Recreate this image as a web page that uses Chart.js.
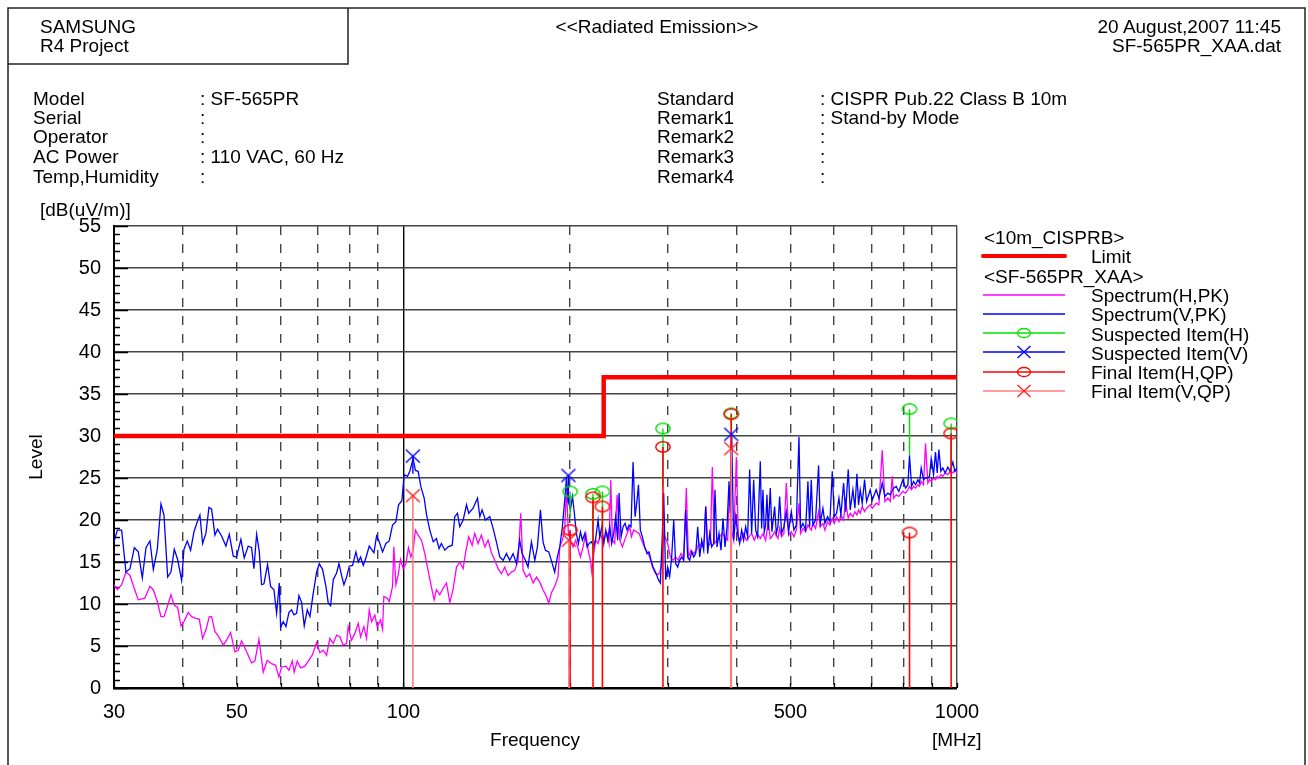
<!DOCTYPE html>
<html lang="en">
  <head>
    <meta charset="UTF-8" />
    <title>Radiated Emission</title>
    <script src="https://cdn.jsdelivr.net/npm/chart.js@4"></script>
    <style>
      body {
        margin: 0;
        width: 1308px;
        height: 765px;
        position: relative;
        overflow: hidden;
        background: #fff;
        color: #000;
        font-family: "Liberation Sans", Arial, sans-serif;
        font-size: 19px;
      }
      #chart,
      #frame {
        position: absolute;
        left: 0;
        top: 0;
      }
      .t {
        position: absolute;
        line-height: 20px;
        white-space: nowrap;
      }
    </style>
  </head>
  <body>
    <canvas id="chart" width="1308" height="765"></canvas>
    <svg id="frame" width="1308" height="765">
      <path d="M8 765 V8 H1305 V765 M348 8 V64 H8" fill="none" stroke="#222" stroke-width="1.5" />
      <line x1="983" y1="256" x2="1065" y2="256" stroke="#ff0000" stroke-width="4" stroke-linecap="round" />
      <line x1="983" y1="295" x2="1065" y2="295" stroke="#ff00ff" stroke-width="1.5" />
      <line x1="983" y1="314" x2="1065" y2="314" stroke="#0000ff" stroke-width="1.5" />
      <line x1="983" y1="333" x2="1065" y2="333" stroke="#00e000" stroke-width="1.5" />
      <ellipse cx="1024" cy="333" rx="6.5" ry="4.5" fill="none" stroke="#00e000" stroke-width="1.3" />
      <line x1="983" y1="352" x2="1065" y2="352" stroke="#0000ff" stroke-width="1.5" />
      <path d="M1017.5 346 L1030.5 358 M1030.5 346 L1017.5 358" stroke="#0000ff" stroke-width="1.3" />
      <line x1="983" y1="372" x2="1065" y2="372" stroke="#ff0000" stroke-width="1.5" />
      <ellipse cx="1024" cy="372" rx="6.5" ry="4.5" fill="none" stroke="#ff0000" stroke-width="1.3" />
      <line x1="983" y1="391" x2="1065" y2="391" stroke="#ff7b7b" stroke-width="1.5" />
      <path d="M1017.5 385 L1030.5 397 M1030.5 385 L1017.5 397" stroke="#ff2020" stroke-width="1.3" />
    </svg>

    <div class="t" style="left: 40px; top: 17px">SAMSUNG</div>
    <div class="t" style="left: 40px; top: 36px">R4 Project</div>
    <div class="t" style="left: 657px; top: 17px; transform: translateX(-50%)">&lt;&lt;Radiated Emission&gt;&gt;</div>
    <div class="t" style="right: 27px; top: 17px">20 August,2007 11:45</div>
    <div class="t" style="right: 27px; top: 36px">SF-565PR_XAA.dat</div>

    <div class="t" style="left: 33px; top: 89px">Model</div>
    <div class="t" style="left: 33px; top: 108px">Serial</div>
    <div class="t" style="left: 33px; top: 127px">Operator</div>
    <div class="t" style="left: 33px; top: 147px">AC Power</div>
    <div class="t" style="left: 33px; top: 167px">Temp,Humidity</div>
    <div class="t" style="left: 200px; top: 89px">: SF-565PR</div>
    <div class="t" style="left: 200px; top: 108px">:</div>
    <div class="t" style="left: 200px; top: 127px">:</div>
    <div class="t" style="left: 200px; top: 147px">: 110 VAC, 60 Hz</div>
    <div class="t" style="left: 200px; top: 167px">:</div>

    <div class="t" style="left: 657px; top: 89px">Standard</div>
    <div class="t" style="left: 657px; top: 108px">Remark1</div>
    <div class="t" style="left: 657px; top: 127px">Remark2</div>
    <div class="t" style="left: 657px; top: 147px">Remark3</div>
    <div class="t" style="left: 657px; top: 167px">Remark4</div>
    <div class="t" style="left: 820px; top: 89px">: CISPR Pub.22 Class B 10m</div>
    <div class="t" style="left: 820px; top: 108px">: Stand-by Mode</div>
    <div class="t" style="left: 820px; top: 127px">:</div>
    <div class="t" style="left: 820px; top: 147px">:</div>
    <div class="t" style="left: 820px; top: 167px">:</div>

    <div class="t" style="left: 40px; top: 200px">[dB(uV/m)]</div>
    <div class="t" style="left: 36px; top: 457px; transform: translate(-50%, -50%) rotate(-90deg)">Level</div>
    <div class="t" style="left: 535px; top: 730px; transform: translateX(-50%)">Frequency</div>
    <div class="t" style="left: 932px; top: 730px">[MHz]</div>

    <div class="t" style="left: 984px; top: 228px">&lt;10m_CISPRB&gt;</div>
    <div class="t" style="left: 1091px; top: 247px">Limit</div>
    <div class="t" style="left: 984px; top: 267px">&lt;SF-565PR_XAA&gt;</div>
    <div class="t" style="left: 1091px; top: 286px">Spectrum(H,PK)</div>
    <div class="t" style="left: 1091px; top: 305px">Spectrum(V,PK)</div>
    <div class="t" style="left: 1091px; top: 325px">Suspected Item(H)</div>
    <div class="t" style="left: 1091px; top: 344px">Suspected Item(V)</div>
    <div class="t" style="left: 1091px; top: 363px">Final Item(H,QP)</div>
    <div class="t" style="left: 1091px; top: 382px">Final Item(V,QP)</div>

    <script>
      // axis ticks
      const xTicks = [30, 40, 50, 60, 70, 80, 90, 100, 200, 300, 400, 500, 600, 700, 800, 900, 1000];
      const xLabels = [30, 50, 100, 500, 1000];
      const yMax = 55;
      const yStep = 5;

      // limit line [MHz, dB(uV/m)]
      const limitLine = [[30, 30], [230, 30], [230, 37], [1000, 37]];

      // spectrum (V, PK) [MHz, dB(uV/m)]
      const spectrumV = [
        [30.0, 17.4], [30.42, 18.8], [30.97, 18.8], [31.53, 13.8], [32.06, 14.2], [32.65, 16.7], [33.19, 16.2],
        [33.75, 13.1], [34.27, 16.7], [34.84, 17.5], [35.33, 14.1], [35.92, 16.5], [36.47, 21.9], [36.93, 20.6],
        [37.5, 13.2], [38.02, 13.8], [38.55, 16.5], [39.09, 15.3], [39.75, 12.8], [40.13, 16.5], [40.69, 17.5],
        [41.26, 16.4], [41.84, 18.6], [42.42, 19.8], [42.89, 20.6], [43.37, 17.2], [43.97, 18.4], [44.53, 21.5],
        [45.02, 21.3], [45.65, 18.2], [46.16, 18.9], [46.93, 18.1], [47.79, 16.9], [48.46, 18.3], [49.27, 15.7],
        [49.95, 15.6], [50.86, 17.7], [51.57, 15.5], [52.43, 16.9], [53.17, 16.7], [53.69, 14.2], [54.29, 18.3],
        [54.89, 16.3], [55.43, 12.3], [55.97, 12.4], [56.83, 14.7], [57.55, 12.1], [58.35, 11.7], [59.0, 8.9],
        [59.66, 12.5], [59.99, 7.2], [60.66, 7.9], [61.34, 7.3], [62.11, 9.0], [62.8, 9.3], [63.42, 8.7],
        [64.12, 8.9], [64.74, 11.0], [65.47, 10.2], [66.19, 7.4], [67.03, 9.3], [67.78, 8.5], [68.72, 11.3],
        [69.68, 13.8], [70.46, 14.8], [71.44, 14.1], [72.44, 12.1], [73.14, 10.1], [73.86, 9.8], [74.68, 12.9],
        [75.73, 13.7], [76.47, 14.8], [77.31, 13.4], [78.07, 12.3], [78.94, 13.2], [79.82, 14.5], [80.93, 14.6],
        [82.06, 16.2], [82.87, 15.0], [83.67, 15.6], [84.61, 14.6], [85.56, 15.5], [86.74, 16.9], [87.59, 16.5],
        [88.44, 16.1], [89.42, 18.1], [90.42, 17.4], [91.68, 16.2], [92.96, 17.2], [94.26, 17.5], [95.57, 19.4],
        [96.91, 19.8], [97.99, 21.8], [99.35, 22.3], [100.3, 25.4], [101.7, 25.2], [102.7, 25.8], [104.1, 27.3],
        [105.1, 25.9], [106.3, 25.8], [107.5, 24.0], [109.0, 22.6], [110.1, 20.6], [111.6, 18.8], [113.2, 17.4],
        [114.7, 17.8], [116.0, 16.6], [117.1, 17.2], [118.8, 16.4], [120.4, 16.8], [122.5, 17.0], [123.8, 20.4],
        [125.2, 20.8], [126.4, 19.2], [128.2, 20.0], [130.0, 21.8], [131.2, 20.8], [133.6, 21.4], [136.1, 22.6],
        [137.4, 20.4], [138.7, 21.2], [140.6, 20.0], [143.2, 20.4], [145.2, 19.0], [147.2, 17.4], [149.3, 15.6],
        [151.4, 15.2], [153.5, 16.0], [155.6, 15.2], [157.8, 16.0], [160.0, 14.8], [162.2, 17.6], [163.8, 16.0],
        [166.1, 15.2], [167.9, 14.4], [170.3, 17.4], [172.7, 15.2], [174.6, 16.8], [176.8, 21.2], [178.7, 17.4],
        [180.5, 16.4], [183.0, 16.2], [185.0, 15.2], [187.6, 13.8], [189.7, 15.6], [191.6, 16.8], [193.7, 19.2],
        [195.6, 22.4], [197.0, 25.0], [198.3, 22.4], [200.3, 21.2], [202.0, 22.8], [203.6, 20.8], [205.3, 18.4],
        [207.1, 17.2], [208.8, 18.6], [210.5, 17.6], [212.6, 18.4], [214.7, 16.8], [216.5, 17.2], [218.5, 17.4],
        [220.7, 16.8], [222.5, 17.8], [224.7, 20.0], [226.3, 18.0], [228.2, 19.2], [230.1, 17.2], [232.0, 18.8],
        [233.9, 17.6], [235.9, 19.2], [237.8, 17.2], [239.8, 18.4], [241.8, 20.4], [243.8, 17.6], [245.2, 23.2],
        [247.3, 18.0], [249.3, 19.2], [251.4, 19.6], [253.5, 18.8], [255.6, 19.4], [257.7, 19.2], [259.9, 26.9],
        [262.1, 20.4], [264.3, 22.4], [265.8, 24.2], [267.9, 18.8], [270.2, 18.0], [272.8, 16.8], [275.5, 16.0],
        [277.8, 16.2], [280.1, 15.2], [282.4, 14.4], [284.4, 14.0], [286.4, 13.5], [288.8, 12.9], [291.2, 12.5],
        [293.6, 18.4], [295.2, 23.2], [297.7, 12.9], [300.2, 14.4], [302.7, 13.3], [305.2, 15.6], [307.8, 20.0],
        [310.3, 14.8], [312.9, 14.4], [315.5, 15.2], [318.2, 15.6], [320.8, 15.2], [323.5, 21.2], [326.2, 15.6],
        [328.9, 15.2], [331.7, 16.2], [334.5, 15.6], [337.3, 16.0], [340.1, 19.2], [342.9, 15.6], [345.8, 17.6],
        [348.7, 16.4], [351.6, 21.6], [354.5, 16.0], [357.5, 18.4], [360.4, 16.8], [363.4, 17.2], [365.4, 23.6],
        [368.5, 16.8], [371.6, 18.4], [374.7, 16.4], [377.8, 20.2], [381.0, 16.8], [384.2, 19.2], [387.4, 24.6],
        [389.5, 20.8], [391.7, 30.3], [394.9, 17.6], [398.3, 20.4], [401.6, 18.4], [404.9, 17.2], [408.3, 18.8],
        [411.7, 17.6], [415.1, 19.2], [418.6, 18.0], [422.1, 26.0], [425.6, 18.4], [429.2, 24.8], [432.8, 18.8],
        [436.4, 18.0], [441.2, 27.0], [443.7, 19.0], [446.1, 23.6], [448.6, 18.6], [451.1, 19.4], [453.6, 23.0],
        [456.1, 18.8], [459.9, 23.8], [463.1, 18.6], [468.3, 21.6], [471.6, 18.4], [474.8, 19.2], [478.2, 22.8],
        [482.1, 18.4], [486.8, 19.2], [491.6, 21.0], [496.4, 18.6], [501.9, 21.0], [507.5, 18.8], [512.5, 19.4],
        [518.2, 29.9], [521.8, 19.0], [526.9, 19.6], [532.7, 18.8], [537.9, 24.6], [541.7, 19.2], [545.4, 24.8],
        [549.2, 19.4], [555.3, 20.0], [562.3, 26.5], [566.2, 19.6], [572.5, 21.4], [577.3, 19.6], [583.7, 20.4],
        [589.4, 19.8], [595.2, 25.8], [600.2, 20.4], [606.0, 20.8], [611.9, 22.6], [617.0, 20.6], [623.9, 24.4],
        [629.1, 21.0], [636.1, 26.0], [641.4, 21.2], [648.6, 23.6], [654.0, 21.4], [659.5, 25.5], [664.0, 21.8],
        [668.6, 23.6], [674.2, 22.0], [680.8, 24.8], [686.5, 22.2], [697.0, 23.6], [702.9, 22.4], [714.6, 23.6],
        [722.6, 22.6], [732.7, 24.4], [740.9, 22.8], [750.1, 23.2], [757.5, 23.0], [768.0, 23.8], [776.6, 24.0],
        [785.2, 23.4], [798.4, 24.8], [807.3, 23.8], [815.2, 24.2], [820.8, 27.7], [827.7, 24.0], [834.6, 24.6],
        [841.6, 24.2], [849.8, 24.8], [855.7, 24.4], [861.6, 26.2], [870.0, 24.8], [877.3, 25.0], [885.8, 25.0],
        [892.0, 25.2], [898.2, 27.3], [907.0, 25.4], [914.5, 28.1], [920.9, 25.6], [927.3, 28.4], [935.0, 25.8],
        [942.8, 26.2], [952.0, 25.6], [962.6, 26.3], [972.0, 25.8], [982.9, 26.9], [991.1, 25.8], [1000, 26.2],
      ];

      // spectrum (H, PK) [MHz, dB(uV/m)]
      const spectrumH = [
        [30.0, 12.3], [30.42, 11.7], [30.97, 12.3], [31.53, 13.8], [32.06, 13.4], [32.62, 11.9], [33.19, 10.5],
        [34.1, 10.7], [34.84, 12.1], [35.33, 11.7], [35.92, 10.3], [36.47, 8.5], [36.93, 8.5], [37.45, 9.7],
        [38.02, 11.1], [38.5, 9.9], [39.09, 9.6], [39.64, 7.4], [40.13, 7.9], [40.86, 9.0], [41.43, 8.5],
        [42.19, 8.3], [42.77, 8.2], [43.37, 5.9], [43.97, 6.9], [44.59, 8.5], [45.02, 8.5], [45.65, 6.7],
        [46.29, 6.2], [47.26, 5.1], [47.92, 5.7], [48.73, 6.6], [49.61, 4.3], [50.3, 4.5], [51.0, 5.6],
        [51.93, 4.5], [53.17, 3.0], [53.91, 3.2], [54.82, 5.8], [55.81, 1.9], [56.75, 3.3], [57.78, 2.9],
        [58.75, 2.7], [59.57, 1.3], [60.23, 2.5], [61.34, 2.6], [62.11, 2.1], [62.96, 3.2], [63.49, 1.9],
        [64.29, 3.2], [65.18, 2.4], [66.37, 2.6], [67.48, 3.3], [68.52, 4.0], [69.68, 5.4], [70.64, 4.2],
        [71.62, 4.5], [72.62, 3.9], [73.63, 5.9], [74.68, 5.3], [75.73, 6.3], [76.76, 6.1], [77.83, 5.1],
        [78.94, 5.3], [79.46, 7.3], [80.58, 5.7], [81.7, 6.5], [82.87, 7.7], [83.67, 6.1], [84.82, 7.3],
        [85.76, 5.9], [86.74, 9.3], [87.59, 7.9], [88.78, 8.7], [89.65, 7.3], [90.89, 8.1], [91.68, 7.0],
        [92.17, 10.9], [93.46, 10.7], [94.26, 10.3], [95.57, 12.1], [96.08, 16.8], [96.91, 12.3], [97.8, 13.4],
        [98.78, 15.3], [99.9, 14.2], [101.0, 14.8], [102.1, 16.7], [103.1, 15.6], [104.1, 16.4], [105.1, 18.8],
        [106.3, 18.2], [107.8, 17.6], [109.3, 16.0], [110.8, 14.0], [112.1, 12.3], [113.6, 10.5], [114.7, 11.7],
        [116.3, 11.1], [118.0, 11.9], [119.6, 12.5], [121.3, 10.2], [122.9, 11.7], [124.7, 14.4], [126.4, 15.0],
        [128.2, 14.2], [129.4, 16.0], [131.2, 18.0], [133.1, 17.0], [134.5, 18.4], [136.4, 17.2], [138.3, 18.2],
        [140.3, 16.8], [142.2, 17.6], [144.2, 16.1], [146.2, 15.2], [148.3, 14.2], [150.3, 13.6], [152.4, 14.4],
        [154.5, 13.4], [156.7, 13.8], [158.9, 14.0], [161.1, 15.2], [162.9, 20.8], [164.5, 14.0], [166.8, 13.2],
        [169.1, 13.6], [171.5, 12.5], [173.9, 13.2], [176.3, 12.6], [178.7, 11.7], [181.2, 10.9], [183.0, 10.1],
        [185.0, 11.3], [187.6, 12.1], [190.2, 13.2], [191.6, 16.8], [193.7, 17.6], [195.6, 18.8], [197.0, 24.0],
        [198.6, 18.4], [200.3, 17.6], [202.5, 16.8], [204.8, 17.6], [206.8, 16.6], [208.8, 15.6], [211.1, 16.8],
        [213.5, 18.4], [215.6, 16.4], [217.7, 15.2], [218.9, 13.8], [220.7, 16.0], [222.5, 17.6], [224.7, 17.2],
        [226.9, 18.4], [228.8, 17.6], [231.1, 18.0], [233.3, 18.4], [235.2, 17.2], [236.9, 24.8], [238.5, 17.6],
        [240.8, 17.2], [243.2, 23.0], [245.9, 17.6], [248.6, 16.8], [251.0, 17.6], [253.5, 18.4], [256.3, 19.2],
        [258.1, 18.0], [260.6, 18.8], [263.6, 18.6], [266.5, 18.4], [269.4, 17.6], [272.4, 16.8], [275.5, 16.2],
        [278.6, 15.6], [281.7, 14.4], [284.8, 13.7], [287.9, 13.5], [290.4, 13.7], [292.8, 14.8], [295.2, 18.4],
        [297.7, 17.8], [300.2, 17.2], [303.5, 15.6], [306.8, 15.2], [310.3, 15.6], [313.7, 15.2], [317.2, 16.0],
        [320.8, 15.6], [324.4, 23.8], [327.1, 15.6], [330.7, 16.4], [334.5, 16.0], [338.2, 16.4], [342.0, 17.2],
        [345.8, 16.8], [349.6, 17.6], [351.6, 21.6], [354.5, 16.8], [358.5, 17.2], [361.4, 26.3], [364.5, 17.2],
        [368.5, 17.6], [372.5, 18.0], [376.7, 18.4], [381.0, 18.0], [385.2, 17.6], [388.4, 24.0], [391.7, 18.8],
        [394.9, 17.6], [399.4, 27.5], [402.7, 18.0], [407.2, 17.6], [411.7, 18.4], [416.3, 17.6], [420.9, 18.0],
        [425.6, 18.4], [430.4, 17.6], [435.2, 18.4], [441.2, 17.8], [446.1, 18.4], [451.1, 17.6], [456.1, 19.8],
        [459.9, 17.8], [463.1, 18.0], [468.3, 18.6], [474.8, 17.8], [478.2, 19.0], [482.1, 18.0], [486.8, 18.4],
        [491.6, 24.4], [496.4, 18.2], [501.9, 18.6], [507.5, 18.0], [512.5, 18.8], [518.2, 22.0], [521.8, 18.4],
        [526.9, 19.0], [532.7, 18.6], [537.9, 19.4], [545.4, 18.8], [549.2, 19.6], [555.3, 19.0], [562.3, 21.0],
        [566.2, 19.2], [572.5, 19.6], [577.3, 18.8], [583.7, 19.8], [589.4, 19.4], [595.2, 20.2], [600.2, 19.6],
        [606.0, 20.4], [611.9, 19.8], [617.0, 20.6], [623.9, 20.0], [629.1, 22.2], [636.1, 20.2], [641.4, 20.8],
        [648.6, 20.4], [654.0, 21.0], [659.5, 20.6], [664.0, 21.2], [668.6, 20.8], [674.2, 21.6], [680.8, 21.0],
        [686.5, 21.4], [697.0, 21.8], [702.9, 21.4], [714.6, 22.0], [722.6, 21.8], [732.7, 28.3], [740.9, 22.2],
        [750.1, 22.6], [757.5, 22.2], [763.8, 25.2], [768.0, 22.6], [776.6, 23.0], [785.2, 22.8], [798.4, 23.4],
        [807.3, 23.2], [815.2, 23.6], [820.8, 24.0], [827.7, 23.6], [834.6, 24.0], [841.6, 23.8], [849.8, 24.2],
        [855.7, 24.0], [861.6, 24.6], [870.0, 24.2], [877.3, 29.1], [885.8, 24.4], [892.0, 24.8], [898.2, 24.6],
        [907.0, 25.0], [914.5, 24.8], [920.9, 25.2], [927.3, 25.0], [935.0, 25.4], [942.8, 25.2], [952.0, 25.6],
        [962.6, 25.4], [972.0, 25.8], [982.9, 25.6], [991.1, 26.0], [1000, 25.6],
      ];

      // items: [MHz, marker level, stem bottom]
      const suspectedH = [[200.0, 23.4, 20.4], [220.0, 23.1, 15.8], [228.8, 23.4, 18.0], [294.3, 30.9, 24.0],
        [391.0, 32.7, 30.3], [820.8, 33.2, 27.7], [976.0, 31.5, 26.0]];
      const suspectedV = [[104.0, 27.6, 25.5], [198.6, 25.3, 22.0], [391.0, 30.2, 25.0]];
      // final items: [MHz, QP level], stem from 0
      const finalH = [[200.0, 18.8], [220.0, 22.7], [228.8, 21.6], [294.3, 28.7], [391.0, 32.6], [820.8, 18.5], [976.0, 30.3]];
      const finalV = [[104.0, 22.9], [199.0, 17.6], [391.0, 28.5]];

      const xy = (pts) => pts.map(([x, y]) => ({ x, y }));

      function ellipseMark(color) {
        const c = document.createElement("canvas");
        c.width = 18;
        c.height = 14;
        const g = c.getContext("2d");
        g.strokeStyle = color;
        g.lineWidth = 1.4;
        g.beginPath();
        g.ellipse(9, 7, 7.2, 5.2, 0, 0, Math.PI * 2);
        g.stroke();
        return c;
      }

      function crossMark(color) {
        const c = document.createElement("canvas");
        c.width = 18;
        c.height = 16;
        const g = c.getContext("2d");
        g.strokeStyle = color;
        g.lineWidth = 1.4;
        g.beginPath();
        g.moveTo(2, 1.5);
        g.lineTo(16, 14.5);
        g.moveTo(16, 1.5);
        g.lineTo(2, 14.5);
        g.stroke();
        return c;
      }

      function stems(items, color, width) {
        return items.map((it) => ({
          data: [{ x: it[0], y: it.length > 2 ? it[2] : 0 }, { x: it[0], y: it[1] }],
          showLine: true,
          borderColor: color,
          borderWidth: width,
          pointRadius: 0,
        }));
      }

      function markers(items, img) {
        return {
          data: items.map((it) => ({ x: it[0], y: it[1] })),
          showLine: false,
          pointStyle: img,
          pointRadius: 7,
        };
      }

      // first in list is drawn on top
      const datasets = [
        markers(finalV, crossMark("#ff2020")),
        markers(finalH, ellipseMark("#ff0000")),
        markers(suspectedV, crossMark("#0000ff")),
        markers(suspectedH, ellipseMark("#00e000")),
        ...stems(finalV, "#ff7b7b", 1.6),
        ...stems(finalH, "#ff0000", 1.6),
        ...stems(suspectedV, "#0000ff", 1.4),
        ...stems(suspectedH, "#00e000", 1.4),
        { data: xy(limitLine), showLine: true, borderColor: "#ff0000", borderWidth: 4.5, pointRadius: 0 },
        { data: xy(spectrumV), showLine: true, borderColor: "#0000ff", borderWidth: 1.3, pointRadius: 0 },
        { data: xy(spectrumH), showLine: true, borderColor: "#ff00ff", borderWidth: 1.3, pointRadius: 0 },
      ];

      const solidX = [30, 100, 1000];

      // short inward ticks on the left and bottom axes
      const innerTicks = {
        id: "innerTicks",
        beforeDatasetsDraw(chart) {
          const { ctx, chartArea, scales } = chart;
          ctx.save();
          ctx.strokeStyle = "#000";
          ctx.lineWidth = 1.3;
          ctx.beginPath();
          for (let v = 0; v <= yMax; v++) {
            const y = Math.round(scales.y.getPixelForValue(v)) + 0.5;
            ctx.moveTo(chartArea.left, y);
            ctx.lineTo(chartArea.left + (v % yStep === 0 ? 14 : 6), y);
          }
          xTicks.forEach((v) => {
            const x = Math.round(scales.x.getPixelForValue(v)) + 0.5;
            ctx.moveTo(x, chartArea.bottom);
            ctx.lineTo(x, chartArea.bottom - 5);
          });
          ctx.stroke();
          ctx.restore();
        },
      };

      new Chart(document.getElementById("chart"), {
        type: "scatter",
        data: { datasets },
        plugins: [innerTicks],
        options: {
          responsive: false,
          animation: false,
          events: [],
          layout: { padding: { left: 0, top: 226, right: 351, bottom: 0 } },
          plugins: { legend: { display: false }, tooltip: { enabled: false } },
          scales: {
            x: {
              type: "logarithmic",
              min: 30,
              max: 1000,
              afterBuildTicks: (s) => {
                s.ticks = xTicks.map((v) => ({ value: v }));
              },
              afterFit: (s) => {
                s.height = 77;
              },
              ticks: {
                autoSkip: false,
                maxRotation: 0,
                minRotation: 0,
                padding: 12,
                color: "#000",
                font: { family: "Liberation Sans", size: 20 },
                callback: (v) => (xLabels.includes(v) ? String(v) : ""),
              },
              grid: {
                drawTicks: false,
                color: (c) => (c.tick && c.tick.value === 100 ? "#000" : "#444"),
                lineWidth: (c) => (c.tick && c.tick.value === 30 ? 0 : 1.4),
              },
              border: {
                display: true,
                color: "#000",
                width: 2.5,
                dash: (c) => (!c.tick || solidX.includes(c.tick.value) ? [] : [9, 9]),
              },
            },
            y: {
              min: 0,
              max: yMax,
              afterFit: (s) => {
                s.width = 114;
              },
              ticks: {
                stepSize: yStep,
                padding: 13,
                color: "#000",
                font: { family: "Liberation Sans", size: 20 },
              },
              grid: { drawTicks: false, color: "#444", lineWidth: 1.4 },
              border: { display: true, color: "#000", width: 2 },
            },
          },
        },
      });
    </script>
  </body>
</html>
